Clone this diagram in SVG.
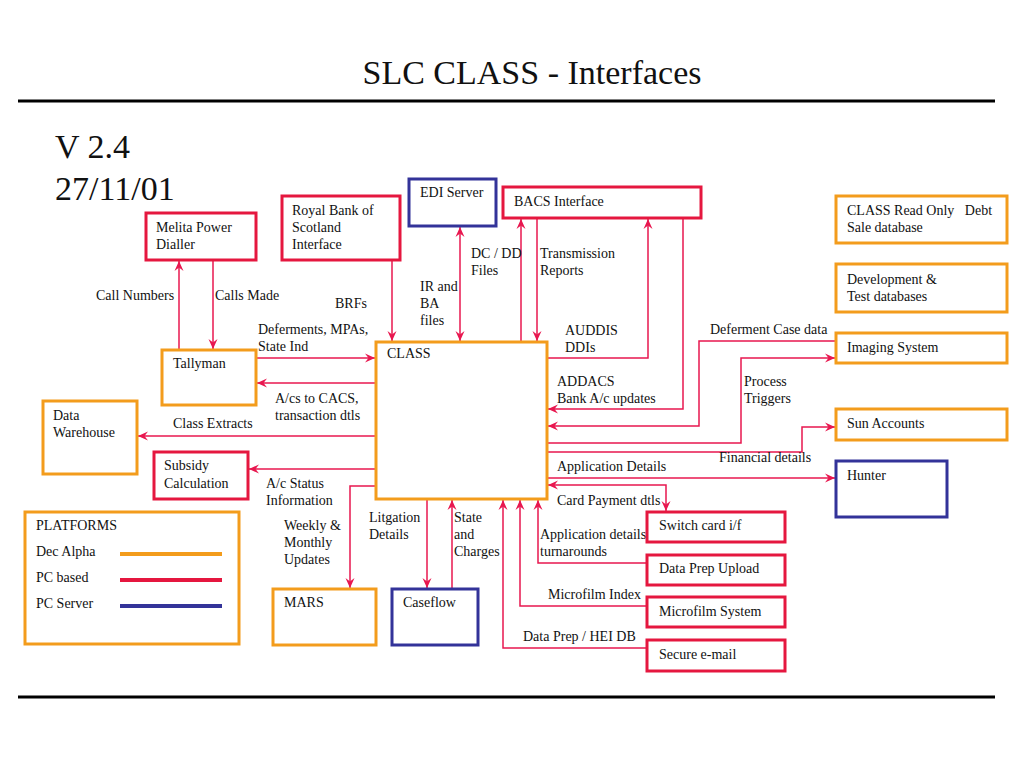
<svg xmlns="http://www.w3.org/2000/svg" width="1024" height="768" viewBox="0 0 1024 768">
<defs>
<marker id="ah" viewBox="0 0 10 10" refX="10" refY="5" markerWidth="10" markerHeight="10" markerUnits="userSpaceOnUse" orient="auto-start-reverse">
<path d="M0,0.5 L10,5 L0,9.5 L3.5,5 z" fill="#e8174f"/>
</marker>
<style>
text{font-family:"Liberation Serif","Times New Roman",serif;font-size:14px;fill:#111}
.o{fill:#fff;stroke:#f39c1c;stroke-width:3}
.r{fill:#fff;stroke:#e5173f;stroke-width:3}
.b{fill:#fff;stroke:#333399;stroke-width:3}
.c{fill:none;stroke:#e8174f;stroke-width:1.5}
.a{marker-end:url(#ah)}
.s{marker-start:url(#ah)}
</style>
</defs>
<rect width="1024" height="768" fill="#fff"/>
<g font-family="Liberation Serif, Times New Roman, serif">
<text x="532" y="84" text-anchor="middle" style="font-size:34px">SLC CLASS - Interfaces</text>
<line x1="18" y1="101" x2="995" y2="101" stroke="#000" stroke-width="3"/>
<line x1="18" y1="697" x2="995" y2="697" stroke="#000" stroke-width="3"/>
<text x="55" y="158" style="font-size:34px">V 2.4</text>
<text x="55" y="200" style="font-size:34px">27/11/01</text>

<g id="connectors">
<line class="c a" x1="179" y1="350" x2="179" y2="261"/>
<line class="c a" x1="213" y1="261" x2="213" y2="349"/>
<line class="c a" x1="392" y1="261" x2="392" y2="341"/>
<line class="c a" x1="257" y1="358" x2="375" y2="358"/>
<line class="c a" x1="375" y1="383" x2="257" y2="383"/>
<line class="c a" x1="375" y1="436" x2="138" y2="436"/>
<line class="c a" x1="375" y1="469" x2="249" y2="469"/>
<polyline class="c a" points="375,486 350,486 350,588"/>
<line class="c a" x1="427" y1="500" x2="427" y2="588"/>
<line class="c a" x1="452" y1="589" x2="452" y2="500"/>
<line class="c a s" x1="460" y1="227" x2="460" y2="341"/>
<line class="c a" x1="521" y1="342" x2="521" y2="219"/>
<line class="c a" x1="537" y1="219" x2="537" y2="341"/>
<polyline class="c a" points="548,358 648,358 648,219"/>
<polyline class="c a" points="683,219 683,409 548,409"/>
<polyline class="c a" points="836,341 699,341 699,426 548,426"/>
<polyline class="c a" points="548,443 741,443 741,358 835,358"/>
<polyline class="c a" points="548,452 802,452 802,427 835,427"/>
<line class="c a" x1="548" y1="478" x2="835" y2="478"/>
<polyline class="c a s" points="548,485 666,485 666,511"/>
<polyline class="c a" points="647,563 538,563 538,500"/>
<polyline class="c a" points="647,606 520,606 520,500"/>
<polyline class="c a" points="647,648 503,648 503,500"/>
<text x="96" y="300">Call Numbers</text>
<text x="215" y="300">Calls Made</text>
<text x="335" y="308">BRFs</text>
<text x="258" y="334">Deferments, MPAs,</text>
<text x="258" y="351">State Ind</text>
<text x="275" y="403">A/cs to CACS,</text>
<text x="275" y="420">transaction dtls</text>
<text x="173" y="428">Class Extracts</text>
<text x="266" y="488">A/c Status</text>
<text x="266" y="505">Information</text>
<text x="284" y="530">Weekly &amp;</text>
<text x="284" y="547">Monthly</text>
<text x="284" y="564">Updates</text>
<text x="369" y="522">Litgation</text>
<text x="369" y="539">Details</text>
<text x="454" y="522">State</text>
<text x="454" y="539">and</text>
<text x="454" y="556">Charges</text>
<text x="420" y="291">IR and</text>
<text x="420" y="308">BA</text>
<text x="420" y="325">files</text>
<text x="471" y="258">DC / DD</text>
<text x="471" y="275">Files</text>
<text x="540" y="258">Transmission</text>
<text x="540" y="275">Reports</text>
<text x="565" y="335">AUDDIS</text>
<text x="565" y="352">DDIs</text>
<text x="557" y="386">ADDACS</text>
<text x="557" y="403">Bank A/c updates</text>
<text x="710" y="334">Deferment Case data</text>
<text x="744" y="386">Process</text>
<text x="744" y="403">Triggers</text>
<text x="719" y="462">Financial details</text>
<text x="557" y="471">Application Details</text>
<text x="557" y="505">Card Payment dtls</text>
<text x="540" y="539">Application details</text>
<text x="540" y="556">turnarounds</text>
<text x="548" y="599">Microfilm Index</text>
<text x="523" y="641">Data Prep / HEI DB</text>
</g>

<g id="melita"><rect class="r" x="146" y="213" width="110" height="47"/><text x="156" y="232">Melita Power</text><text x="156" y="249">Dialler</text></g>
<g id="rbs"><rect class="r" x="282" y="196" width="118" height="64"/><text x="292" y="215">Royal Bank of</text><text x="292" y="232">Scotland</text><text x="292" y="249">Interface</text></g>
<g id="edi"><rect class="b" x="409" y="179" width="87" height="47"/><text x="420" y="197">EDI Server</text></g>
<g id="bacs"><rect class="r" x="503" y="187" width="198" height="31"/><text x="514" y="206">BACS Interface</text></g>
<g id="class"><rect class="o" x="376" y="342" width="171" height="157"/><text x="387" y="358">CLASS</text></g>
<g id="tallyman"><rect class="o" x="162" y="350" width="94" height="55"/><text x="173" y="368">Tallyman</text></g>
<g id="warehouse"><rect class="o" x="43" y="401" width="94" height="73"/><text x="53" y="420">Data</text><text x="53" y="437">Warehouse</text></g>
<g id="subsidy"><rect class="r" x="154" y="452" width="94" height="47"/><text x="164" y="470">Subsidy</text><text x="164" y="488">Calculation</text></g>
<g id="platforms"><rect class="o" x="25" y="512" width="214" height="132"/><text x="36" y="530">PLATFORMS</text><text x="36" y="556">Dec Alpha</text><text x="36" y="582">PC based</text><text x="36" y="608">PC Server</text>
<line x1="120" y1="554" x2="222" y2="554" stroke="#f39c1c" stroke-width="4"/>
<line x1="120" y1="580" x2="222" y2="580" stroke="#e5173f" stroke-width="4"/>
<line x1="120" y1="606" x2="222" y2="606" stroke="#333399" stroke-width="4"/></g>
<g id="mars"><rect class="o" x="273" y="589" width="103" height="56"/><text x="284" y="607">MARS</text></g>
<g id="caseflow"><rect class="b" x="392" y="589" width="86" height="56"/><text x="403" y="607">Caseflow</text></g>
<g id="switch"><rect class="r" x="647" y="512" width="138" height="30"/><text x="659" y="530">Switch card i/f</text></g>
<g id="dataprep"><rect class="r" x="647" y="555" width="138" height="30"/><text x="659" y="573">Data Prep Upload</text></g>
<g id="microfilm"><rect class="r" x="647" y="597" width="138" height="30"/><text x="659" y="616">Microfilm System</text></g>
<g id="email"><rect class="r" x="647" y="640" width="138" height="31"/><text x="659" y="659">Secure e-mail</text></g>
<g id="readonly"><rect class="o" x="836" y="196" width="171" height="47"/><text x="847" y="215" xml:space="preserve">CLASS Read Only   Debt</text><text x="847" y="232">Sale database</text></g>
<g id="devtest"><rect class="o" x="836" y="264" width="171" height="48"/><text x="847" y="284">Development &amp;</text><text x="847" y="301">Test databases</text></g>
<g id="imaging"><rect class="o" x="836" y="333" width="171" height="30"/><text x="847" y="352">Imaging System</text></g>
<g id="sun"><rect class="o" x="836" y="409" width="171" height="31"/><text x="847" y="428">Sun Accounts</text></g>
<g id="hunter"><rect class="b" x="836" y="461" width="111" height="56"/><text x="847" y="480">Hunter</text></g>
</g>
</svg>
